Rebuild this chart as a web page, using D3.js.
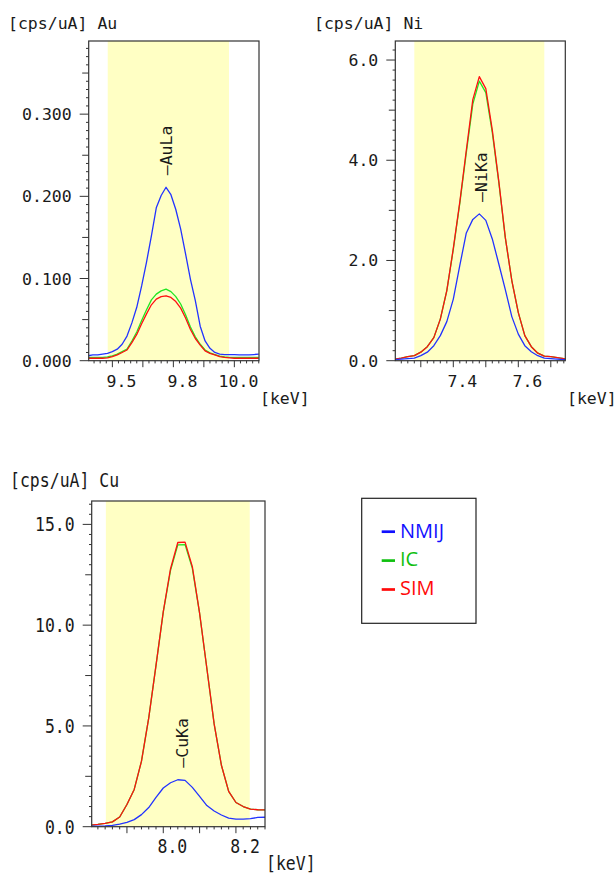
<!DOCTYPE html>
<html>
<head>
<meta charset="utf-8">
<script src="https://cdn.jsdelivr.net/npm/d3@7"></script>
<style>
  html, body { margin: 0; padding: 0; background: #ffffff; }
  svg { display: block; }
  .mono { font-family: "DejaVu Sans Mono", "Liberation Mono", monospace; font-size: 16.5px; fill: #1a1a1a; }
</style>
</head>
<body>
<svg id="chart" width="616" height="873"></svg>
<script>
// ---------------- DATA ----------------
const seriesNames = ["NMIJ", "IC", "SIM"];

// Au L-alpha region
const auEnergy = [9.40,9.42,9.44,9.46,9.48,9.50,9.52,9.54,9.56,9.58,9.60,9.62,9.64,9.66,9.68,9.70,9.72,9.74,9.76,9.78,9.80,9.82,9.84,9.86,9.88,9.90,9.92,9.94,9.96,9.98,10.00,10.02,10.04,10.06,10.08,10.10];
const auNMIJ = [0.006,0.007,0.007,0.008,0.009,0.011,0.014,0.020,0.030,0.046,0.065,0.091,0.120,0.152,0.186,0.201,0.211,0.202,0.184,0.160,0.130,0.099,0.073,0.042,0.024,0.015,0.010,0.008,0.0075,0.0073,0.0073,0.007,0.007,0.007,0.0075,0.008];
const auIC   = [0.004,0.004,0.004,0.004,0.0045,0.006,0.008,0.011,0.014,0.024,0.035,0.049,0.062,0.074,0.081,0.085,0.087,0.084,0.078,0.069,0.056,0.041,0.029,0.020,0.013,0.0095,0.0075,0.0055,0.0045,0.004,0.004,0.004,0.004,0.004,0.004,0.004];
const auSIM  = [0.003,0.003,0.003,0.003,0.0035,0.005,0.007,0.010,0.013,0.022,0.032,0.045,0.057,0.068,0.075,0.078,0.079,0.077,0.072,0.064,0.052,0.038,0.027,0.019,0.012,0.009,0.007,0.005,0.004,0.0035,0.003,0.003,0.003,0.003,0.003,0.003];

// Ni K-alpha region
const niEnergy = [7.22,7.24,7.26,7.28,7.30,7.32,7.34,7.36,7.38,7.40,7.42,7.44,7.46,7.48,7.50,7.52,7.54,7.56,7.58,7.60,7.62,7.64,7.66,7.68,7.70,7.72,7.74,7.76];
const niNMIJ = [0.02,0.03,0.04,0.05,0.10,0.17,0.30,0.50,0.78,1.23,1.90,2.55,2.82,2.93,2.80,2.43,1.93,1.42,0.88,0.53,0.30,0.18,0.10,0.05,0.04,0.03,0.02,0.02];
const niIC   = [0.03,0.05,0.08,0.10,0.17,0.28,0.46,0.83,1.40,2.22,3.14,4.15,5.12,5.58,5.35,4.55,3.56,2.45,1.60,0.96,0.50,0.28,0.15,0.09,0.08,0.06,0.04,0.03];
const niSIM  = [0.03,0.05,0.08,0.10,0.17,0.28,0.46,0.83,1.40,2.24,3.17,4.20,5.21,5.67,5.43,4.60,3.58,2.46,1.60,0.96,0.50,0.28,0.15,0.09,0.08,0.06,0.04,0.03];

// Cu K-alpha region
const cuEnergy = [7.80,7.82,7.84,7.86,7.88,7.90,7.92,7.94,7.96,7.98,8.00,8.02,8.04,8.06,8.08,8.10,8.12,8.14,8.16,8.18,8.20,8.22,8.24,8.26,8.28];
const cuNMIJ = [0.03,0.03,0.04,0.07,0.13,0.22,0.35,0.60,0.95,1.45,1.92,2.18,2.33,2.30,1.95,1.50,1.05,0.78,0.58,0.43,0.38,0.38,0.40,0.46,0.47];
const cuIC   = [0.08,0.12,0.17,0.24,0.48,1.10,1.85,3.25,5.40,8.00,10.65,12.72,13.98,14.00,12.82,10.58,7.85,5.10,3.05,1.75,1.20,1.00,0.87,0.84,0.83];
const cuSIM  = [0.08,0.12,0.17,0.24,0.48,1.10,1.85,3.25,5.40,8.00,10.67,12.80,14.10,14.12,12.90,10.60,7.85,5.10,3.05,1.75,1.20,1.00,0.87,0.84,0.83];

// axis tick labels
const auXTickLabels = [9.5, 9.75, 10.0];
const auYTickLabels = [0, 0.1, 0.2, 0.3];
const niXTickLabels = [7.4, 7.6];
const niYTickLabels = [0, 2, 4, 6];
const cuXTickLabels = [8.0, 8.2];
const cuYTickLabels = [0, 5, 10, 15];

// peak lines
const peakNames = ["AuLa", "NiKa", "CuKa"];
const peakEnergies = [9.713, 7.478, 8.046];

// ---------------- LAYOUT ----------------
const colors = { NMIJ: "#2233ff", IC: "#22e622", SIM: "#ff1010" };
const legendColors = { NMIJ: "#1010ff", IC: "#10c010", SIM: "#ff0a0a" };

const panels = [
  { title: "[cps/uA] Au", titleX: 8, titleY: 29, unitX: 260, unitY: 404,
    box: [88.7, 41, 259, 360.7], xDom: [9.403, 10.101], yDom: [0, 0.389], band: [9.481, 9.978],
    energy: auEnergy, series: [auNMIJ, auIC, auSIM], xLab: auXTickLabels, yLab: auYTickLabels,
    xMajor: 0.125, xMinor: 0.025, yMajor: 0.05, yMinor: 0.01, yFmt: ".3f", peak: 0, sy: 1 },
  { title: "[cps/uA] Ni", titleX: 314, titleY: 29, unitX: 567, unitY: 404,
    box: [395.3, 41, 565.3, 360.7], xDom: [7.2215, 7.7446], yDom: [0, 6.38], band: [7.280, 7.680],
    energy: niEnergy, series: [niNMIJ, niIC, niSIM], xLab: niXTickLabels, yLab: niYTickLabels,
    xMajor: 0.1, xMinor: 0.02, yMajor: 1, yMinor: 0.2, yFmt: ".1f", peak: 1, sy: 1 },
  { title: "[cps/uA] Cu", titleX: 10, titleY: 487, unitX: 266, unitY: 870,
    box: [91.7, 501, 265, 826.7], xDom: [7.803, 8.280], yDom: [0, 16.16], band: [7.842, 8.238],
    energy: cuEnergy, series: [cuNMIJ, cuIC, cuSIM], xLab: cuXTickLabels, yLab: cuYTickLabels,
    xMajor: 0.1, xMinor: 0.02, yMajor: 2.5, yMinor: 0.5, yFmt: ".1f", peak: 2, sy: 1.15 }
];

const svg = d3.select("#chart");

function ticksBetween(lo, hi, step) {
  const out = [];
  const start = Math.ceil(lo / step - 1e-6);
  const end = Math.floor(hi / step + 1e-6);
  for (let i = start; i <= end; i++) out.push(+(i * step).toFixed(6));
  return out;
}

function stretchedText(g, x, y, str, sy, anchor) {
  return g.append("text")
    .attr("class", "mono")
    .attr("text-anchor", anchor || "start")
    .attr("transform", `translate(${x},${y}) scale(1,${sy})`)
    .text(str);
}

panels.forEach((p, pi) => {
  const [x0, y0, x1, y1] = p.box;
  const x = d3.scaleLinear().domain(p.xDom).range([x0, x1]);
  const y = d3.scaleLinear().domain(p.yDom).range([y1, y0]);
  const g = svg.append("g");

  // yellow region of interest
  g.append("rect")
    .attr("x", x(p.band[0])).attr("y", y0)
    .attr("width", x(p.band[1]) - x(p.band[0])).attr("height", y1 - y0)
    .attr("fill", "#ffffc4");

  const clipId = "clip" + pi;
  svg.append("clipPath").attr("id", clipId)
    .append("rect").attr("x", x0).attr("y", y0).attr("width", x1 - x0).attr("height", y1 - y0);

  // spectra: IC, SIM, then NMIJ
  const order = [1, 2, 0];
  const line = d3.line().x(d => x(d[0])).y(d => y(d[1]));
  order.forEach(si => {
    const pts = p.energy.map((e, i) => [e, p.series[si][i]]);
    g.append("path")
      .attr("d", line(pts))
      .attr("fill", "none")
      .attr("stroke", colors[seriesNames[si]])
      .attr("stroke-width", 1.3)
      .attr("stroke-linejoin", "round")
      .attr("clip-path", `url(#${clipId})`);
  });

  // frame
  g.append("rect")
    .attr("x", x0).attr("y", y0).attr("width", x1 - x0).attr("height", y1 - y0)
    .attr("fill", "none").attr("stroke", "#333").attr("stroke-width", 1.2);

  // y ticks
  const isMult = (v, s) => Math.abs(v / s - Math.round(v / s)) < 1e-4;
  ticksBetween(p.yDom[0], p.yDom[1], p.yMinor).forEach(v => {
    let len = 2.7;
    if (p.yLab.some(l => Math.abs(l - v) < 1e-6)) len = 9;
    else if (isMult(v, p.yMajor)) len = 6.5;
    g.append("line")
      .attr("x1", x0 - len).attr("x2", x0)
      .attr("y1", y(v)).attr("y2", y(v))
      .attr("stroke", "#333").attr("stroke-width", 1);
  });
  const yf = d3.format(p.yFmt);
  p.yLab.forEach(v => {
    stretchedText(g, x0 - 17, y(v) + 6 * p.sy, yf(v), p.sy, "end");
  });

  // x ticks
  ticksBetween(p.xDom[0], p.xDom[1], p.xMinor).forEach(v => {
    const len = isMult(v, p.xMajor) ? 6.5 : 2.7;
    g.append("line")
      .attr("x1", x(v)).attr("x2", x(v))
      .attr("y1", y1).attr("y2", y1 + len)
      .attr("stroke", "#333").attr("stroke-width", 1);
  });
  const xf = d3.format(".1f");
  p.xLab.forEach(v => {
    stretchedText(g, x(v) + 24, y1 + 26, xf(v), p.sy, "end");
  });

  // titles
  stretchedText(g, p.titleX, p.titleY, p.title, p.sy, "start");
  stretchedText(g, p.unitX, p.unitY, "[keV]", p.sy, "start");

  // peak marker label above the NMIJ peak
  const pe = peakEnergies[p.peak];
  const nmijMax = d3.max(p.series[0]);
  const px = x(pe) + 8;
  const py = y(nmijMax) - 12;
  g.append("text")
    .attr("class", "mono")
    .attr("transform", `translate(${px},${py}) rotate(-90)`)
    .attr("text-anchor", "start")
    .text("\u2014" + peakNames[p.peak]);
});

// ---------------- LEGEND ----------------
const lg = svg.append("g");
lg.append("rect")
  .attr("x", 361.7).attr("y", 498.3).attr("width", 114.3).attr("height", 125)
  .attr("fill", "#fff").attr("stroke", "#222").attr("stroke-width", 1.2);
seriesNames.forEach((name, i) => {
  const cy = 531.7 + i * 28.9;
  lg.append("line")
    .attr("x1", 381.7).attr("x2", 395).attr("y1", cy).attr("y2", cy)
    .attr("stroke", legendColors[name]).attr("stroke-width", 2.7);
  lg.append("text")
    .attr("x", 400).attr("y", cy + 5.8)
    .attr("font-family", "'Open Sans', sans-serif")
    .attr("font-size", 20)
    .attr("fill", legendColors[name])
    .text(name);
});
</script>
</body>
</html>
